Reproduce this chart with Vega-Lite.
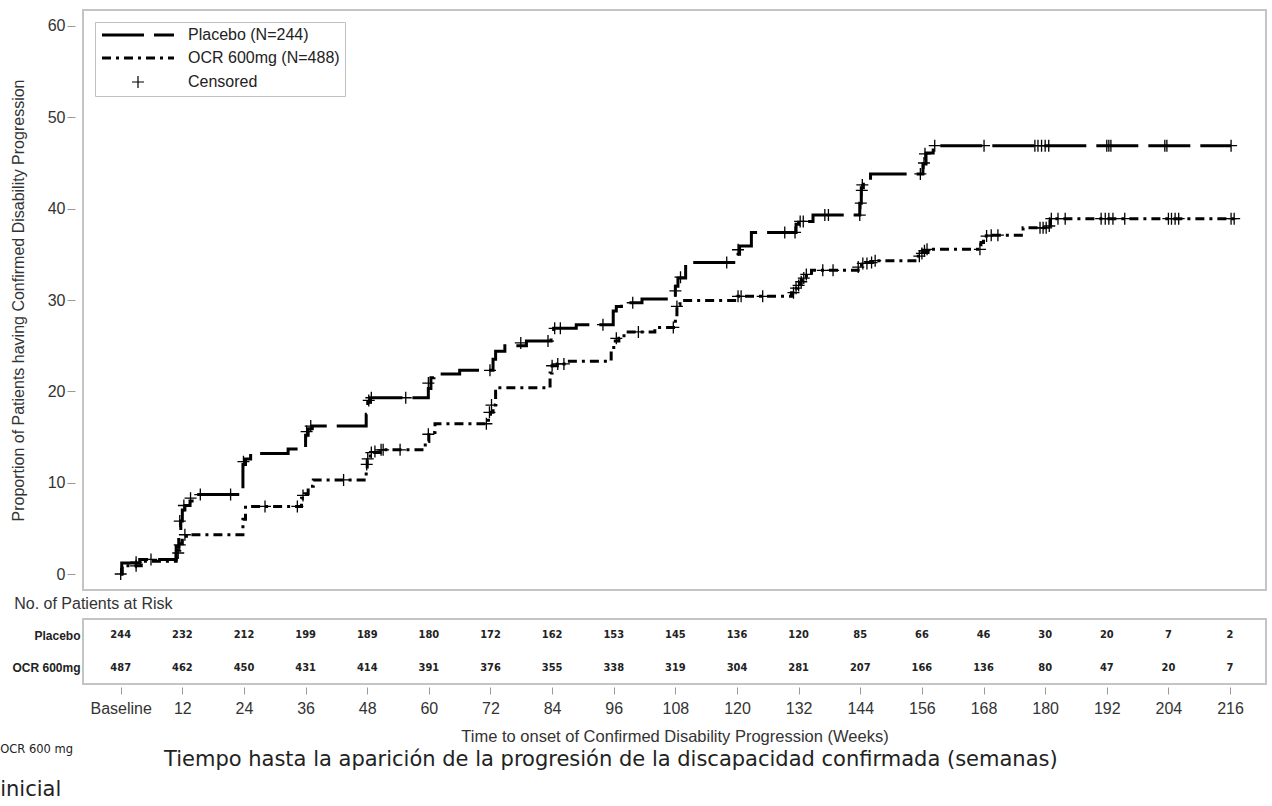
{
  "$schema": "https://vega.github.io/schema/vega-lite/v6.json",
  "padding": {"left": 0, "top": 9, "right": 2, "bottom": 0},
  "background": "white",
  "config": {
    "view": {"stroke": "#c4c4c4", "strokeWidth": 2},
    "font": "Liberation Sans",
    "axis": {"labelFont": "Liberation Sans", "titleFont": "Liberation Sans"}
  },
  "title": {
    "text": "OCR 600 mg",
    "subtitle": "inicial",
    "orient": "bottom",
    "anchor": "start",
    "frame": "bounds",
    "font": "DejaVu Sans",
    "fontSize": 11.5,
    "fontWeight": "normal",
    "color": "#222",
    "subtitleFont": "DejaVu Sans",
    "subtitleFontSize": 21,
    "subtitleColor": "#222",
    "subtitlePadding": 24,
    "offset": -27,
    "dx": -9
  },
  "datasets": {
    "curves": [
      {"arm": "Placebo (N=244)", "week": 0, "pct": 0},
      {"arm": "Placebo (N=244)", "week": 0.2, "pct": 1.2},
      {"arm": "Placebo (N=244)", "week": 3.7, "pct": 1.6},
      {"arm": "Placebo (N=244)", "week": 10.8, "pct": 3.0},
      {"arm": "Placebo (N=244)", "week": 11.3, "pct": 4.5},
      {"arm": "Placebo (N=244)", "week": 11.7, "pct": 5.8},
      {"arm": "Placebo (N=244)", "week": 12.0, "pct": 7.0},
      {"arm": "Placebo (N=244)", "week": 12.5, "pct": 7.5},
      {"arm": "Placebo (N=244)", "week": 13.5, "pct": 8.0},
      {"arm": "Placebo (N=244)", "week": 14.5, "pct": 8.7},
      {"arm": "Placebo (N=244)", "week": 23.8, "pct": 12.0},
      {"arm": "Placebo (N=244)", "week": 24.3, "pct": 12.6},
      {"arm": "Placebo (N=244)", "week": 25.3, "pct": 13.2},
      {"arm": "Placebo (N=244)", "week": 32.6, "pct": 13.7},
      {"arm": "Placebo (N=244)", "week": 36.0, "pct": 15.2},
      {"arm": "Placebo (N=244)", "week": 36.5, "pct": 15.9},
      {"arm": "Placebo (N=244)", "week": 37.3, "pct": 16.2},
      {"arm": "Placebo (N=244)", "week": 47.8, "pct": 17.5},
      {"arm": "Placebo (N=244)", "week": 48.1, "pct": 18.8},
      {"arm": "Placebo (N=244)", "week": 48.6, "pct": 19.3},
      {"arm": "Placebo (N=244)", "week": 59.9, "pct": 20.3},
      {"arm": "Placebo (N=244)", "week": 60.4, "pct": 21.5},
      {"arm": "Placebo (N=244)", "week": 61.0, "pct": 21.9},
      {"arm": "Placebo (N=244)", "week": 66.0, "pct": 22.3},
      {"arm": "Placebo (N=244)", "week": 72.5, "pct": 23.5},
      {"arm": "Placebo (N=244)", "week": 73.0, "pct": 24.4},
      {"arm": "Placebo (N=244)", "week": 74.8, "pct": 25.0},
      {"arm": "Placebo (N=244)", "week": 79.0, "pct": 25.5},
      {"arm": "Placebo (N=244)", "week": 83.8, "pct": 26.4},
      {"arm": "Placebo (N=244)", "week": 84.3, "pct": 26.9},
      {"arm": "Placebo (N=244)", "week": 88.7, "pct": 27.3},
      {"arm": "Placebo (N=244)", "week": 95.9, "pct": 28.8},
      {"arm": "Placebo (N=244)", "week": 96.5, "pct": 29.3},
      {"arm": "Placebo (N=244)", "week": 97.5, "pct": 29.7},
      {"arm": "Placebo (N=244)", "week": 101.5, "pct": 30.1},
      {"arm": "Placebo (N=244)", "week": 108.0, "pct": 31.5},
      {"arm": "Placebo (N=244)", "week": 108.5, "pct": 32.4},
      {"arm": "Placebo (N=244)", "week": 110.0, "pct": 34.1},
      {"arm": "Placebo (N=244)", "week": 120.2, "pct": 35.0},
      {"arm": "Placebo (N=244)", "week": 120.5, "pct": 35.9},
      {"arm": "Placebo (N=244)", "week": 122.8, "pct": 37.4},
      {"arm": "Placebo (N=244)", "week": 131.5, "pct": 38.3},
      {"arm": "Placebo (N=244)", "week": 132.0, "pct": 38.6},
      {"arm": "Placebo (N=244)", "week": 134.8, "pct": 39.3},
      {"arm": "Placebo (N=244)", "week": 143.9, "pct": 40.6},
      {"arm": "Placebo (N=244)", "week": 144.2, "pct": 42.3},
      {"arm": "Placebo (N=244)", "week": 144.6, "pct": 43.0},
      {"arm": "Placebo (N=244)", "week": 146.0, "pct": 43.8},
      {"arm": "Placebo (N=244)", "week": 156.2, "pct": 44.9},
      {"arm": "Placebo (N=244)", "week": 156.8, "pct": 46.1},
      {"arm": "Placebo (N=244)", "week": 158.2, "pct": 46.9},
      {"arm": "Placebo (N=244)", "week": 216.2, "pct": 46.9},
      {"arm": "OCR 600mg (N=488)", "week": 0, "pct": 0},
      {"arm": "OCR 600mg (N=488)", "week": 0.3, "pct": 0.9},
      {"arm": "OCR 600mg (N=488)", "week": 4.0, "pct": 1.4},
      {"arm": "OCR 600mg (N=488)", "week": 10.8, "pct": 2.0},
      {"arm": "OCR 600mg (N=488)", "week": 11.2, "pct": 2.6},
      {"arm": "OCR 600mg (N=488)", "week": 11.5, "pct": 3.3},
      {"arm": "OCR 600mg (N=488)", "week": 12.0, "pct": 3.9},
      {"arm": "OCR 600mg (N=488)", "week": 12.8, "pct": 4.3},
      {"arm": "OCR 600mg (N=488)", "week": 23.8, "pct": 6.0},
      {"arm": "OCR 600mg (N=488)", "week": 24.3, "pct": 7.3},
      {"arm": "OCR 600mg (N=488)", "week": 24.8, "pct": 7.4},
      {"arm": "OCR 600mg (N=488)", "week": 35.2, "pct": 8.3},
      {"arm": "OCR 600mg (N=488)", "week": 35.8, "pct": 8.8},
      {"arm": "OCR 600mg (N=488)", "week": 36.5, "pct": 9.6},
      {"arm": "OCR 600mg (N=488)", "week": 37.5, "pct": 10.3},
      {"arm": "OCR 600mg (N=488)", "week": 47.8, "pct": 11.5},
      {"arm": "OCR 600mg (N=488)", "week": 48.0, "pct": 12.4},
      {"arm": "OCR 600mg (N=488)", "week": 48.6, "pct": 13.3},
      {"arm": "OCR 600mg (N=488)", "week": 50.5, "pct": 13.6},
      {"arm": "OCR 600mg (N=488)", "week": 59.3, "pct": 14.5},
      {"arm": "OCR 600mg (N=488)", "week": 60.0, "pct": 15.5},
      {"arm": "OCR 600mg (N=488)", "week": 61.2, "pct": 16.45},
      {"arm": "OCR 600mg (N=488)", "week": 71.6, "pct": 17.0},
      {"arm": "OCR 600mg (N=488)", "week": 72.0, "pct": 17.7},
      {"arm": "OCR 600mg (N=488)", "week": 72.5, "pct": 18.5},
      {"arm": "OCR 600mg (N=488)", "week": 73.0, "pct": 20.0},
      {"arm": "OCR 600mg (N=488)", "week": 73.5, "pct": 20.4},
      {"arm": "OCR 600mg (N=488)", "week": 83.6, "pct": 22.0},
      {"arm": "OCR 600mg (N=488)", "week": 84.0, "pct": 22.8},
      {"arm": "OCR 600mg (N=488)", "week": 85.0, "pct": 23.0},
      {"arm": "OCR 600mg (N=488)", "week": 87.0, "pct": 23.3},
      {"arm": "OCR 600mg (N=488)", "week": 95.5, "pct": 24.5},
      {"arm": "OCR 600mg (N=488)", "week": 96.0, "pct": 25.5},
      {"arm": "OCR 600mg (N=488)", "week": 97.0, "pct": 25.8},
      {"arm": "OCR 600mg (N=488)", "week": 98.0, "pct": 26.5},
      {"arm": "OCR 600mg (N=488)", "week": 104.0, "pct": 27.0},
      {"arm": "OCR 600mg (N=488)", "week": 108.0, "pct": 28.0},
      {"arm": "OCR 600mg (N=488)", "week": 108.3, "pct": 29.5},
      {"arm": "OCR 600mg (N=488)", "week": 108.9, "pct": 29.95},
      {"arm": "OCR 600mg (N=488)", "week": 120.2, "pct": 30.4},
      {"arm": "OCR 600mg (N=488)", "week": 130.6, "pct": 30.8},
      {"arm": "OCR 600mg (N=488)", "week": 131.2, "pct": 31.3},
      {"arm": "OCR 600mg (N=488)", "week": 131.8, "pct": 31.8},
      {"arm": "OCR 600mg (N=488)", "week": 132.5, "pct": 32.2},
      {"arm": "OCR 600mg (N=488)", "week": 133.2, "pct": 32.6},
      {"arm": "OCR 600mg (N=488)", "week": 134.5, "pct": 33.25},
      {"arm": "OCR 600mg (N=488)", "week": 143.6, "pct": 33.8},
      {"arm": "OCR 600mg (N=488)", "week": 145.0, "pct": 34.1},
      {"arm": "OCR 600mg (N=488)", "week": 147.0, "pct": 34.3},
      {"arm": "OCR 600mg (N=488)", "week": 155.3, "pct": 34.8},
      {"arm": "OCR 600mg (N=488)", "week": 156.0, "pct": 35.2},
      {"arm": "OCR 600mg (N=488)", "week": 157.2, "pct": 35.55},
      {"arm": "OCR 600mg (N=488)", "week": 167.5, "pct": 36.3},
      {"arm": "OCR 600mg (N=488)", "week": 168.0, "pct": 37.0},
      {"arm": "OCR 600mg (N=488)", "week": 169.0, "pct": 37.1},
      {"arm": "OCR 600mg (N=488)", "week": 175.7, "pct": 37.9},
      {"arm": "OCR 600mg (N=488)", "week": 181.0, "pct": 38.9},
      {"arm": "OCR 600mg (N=488)", "week": 217.0, "pct": 38.9}
    ],
    "censored": [
      {"arm": "Placebo", "week": 0, "pct": 0},
      {"arm": "Placebo", "week": 3.0, "pct": 1.3},
      {"arm": "Placebo", "week": 5.9, "pct": 1.6},
      {"arm": "Placebo", "week": 11.5, "pct": 5.8},
      {"arm": "Placebo", "week": 12.3, "pct": 7.5},
      {"arm": "Placebo", "week": 13.6, "pct": 8.3},
      {"arm": "Placebo", "week": 15.5, "pct": 8.7},
      {"arm": "Placebo", "week": 21.4, "pct": 8.7},
      {"arm": "Placebo", "week": 23.9, "pct": 12.3},
      {"arm": "Placebo", "week": 36.2, "pct": 15.6},
      {"arm": "Placebo", "week": 37.0, "pct": 16.2},
      {"arm": "Placebo", "week": 48.3, "pct": 19.0},
      {"arm": "Placebo", "week": 48.8, "pct": 19.3},
      {"arm": "Placebo", "week": 55.5, "pct": 19.3},
      {"arm": "Placebo", "week": 59.9, "pct": 20.9},
      {"arm": "Placebo", "week": 71.9, "pct": 22.3},
      {"arm": "Placebo", "week": 77.9, "pct": 25.3},
      {"arm": "Placebo", "week": 83.2, "pct": 25.5},
      {"arm": "Placebo", "week": 84.5, "pct": 26.9},
      {"arm": "Placebo", "week": 85.6, "pct": 26.9},
      {"arm": "Placebo", "week": 93.9, "pct": 27.3},
      {"arm": "Placebo", "week": 99.7, "pct": 29.7},
      {"arm": "Placebo", "week": 108.0, "pct": 31.0},
      {"arm": "Placebo", "week": 109.0, "pct": 32.5},
      {"arm": "Placebo", "week": 118.0, "pct": 34.1},
      {"arm": "Placebo", "week": 120.2, "pct": 35.5},
      {"arm": "Placebo", "week": 129.3, "pct": 37.4},
      {"arm": "Placebo", "week": 131.3, "pct": 37.4},
      {"arm": "Placebo", "week": 132.3, "pct": 38.6},
      {"arm": "Placebo", "week": 132.9, "pct": 38.6},
      {"arm": "Placebo", "week": 137.1, "pct": 39.3},
      {"arm": "Placebo", "week": 137.8, "pct": 39.3},
      {"arm": "Placebo", "week": 143.9, "pct": 39.3},
      {"arm": "Placebo", "week": 144.1, "pct": 40.6},
      {"arm": "Placebo", "week": 144.3, "pct": 42.0},
      {"arm": "Placebo", "week": 144.4, "pct": 42.6},
      {"arm": "Placebo", "week": 155.7, "pct": 43.8},
      {"arm": "Placebo", "week": 156.4, "pct": 45.0},
      {"arm": "Placebo", "week": 156.6, "pct": 46.0},
      {"arm": "Placebo", "week": 158.5, "pct": 46.9},
      {"arm": "Placebo", "week": 168.1, "pct": 46.9},
      {"arm": "Placebo", "week": 178.0, "pct": 46.9},
      {"arm": "Placebo", "week": 178.6, "pct": 46.9},
      {"arm": "Placebo", "week": 179.3, "pct": 46.9},
      {"arm": "Placebo", "week": 180.0, "pct": 46.9},
      {"arm": "Placebo", "week": 180.7, "pct": 46.9},
      {"arm": "Placebo", "week": 192.0, "pct": 46.9},
      {"arm": "Placebo", "week": 192.4, "pct": 46.9},
      {"arm": "Placebo", "week": 192.8, "pct": 46.9},
      {"arm": "Placebo", "week": 203.3, "pct": 46.9},
      {"arm": "Placebo", "week": 203.7, "pct": 46.9},
      {"arm": "Placebo", "week": 216.2, "pct": 46.9},
      {"arm": "OCR 600mg", "week": 3.0, "pct": 0.9},
      {"arm": "OCR 600mg", "week": 11.2, "pct": 2.3},
      {"arm": "OCR 600mg", "week": 11.5, "pct": 3.2},
      {"arm": "OCR 600mg", "week": 12.5, "pct": 4.3},
      {"arm": "OCR 600mg", "week": 28.1, "pct": 7.4},
      {"arm": "OCR 600mg", "week": 34.4, "pct": 7.4},
      {"arm": "OCR 600mg", "week": 35.5, "pct": 8.6},
      {"arm": "OCR 600mg", "week": 43.4, "pct": 10.3},
      {"arm": "OCR 600mg", "week": 47.9, "pct": 12.0},
      {"arm": "OCR 600mg", "week": 48.1, "pct": 12.6},
      {"arm": "OCR 600mg", "week": 48.8, "pct": 13.3},
      {"arm": "OCR 600mg", "week": 49.5, "pct": 13.4},
      {"arm": "OCR 600mg", "week": 50.7, "pct": 13.6},
      {"arm": "OCR 600mg", "week": 51.1, "pct": 13.6},
      {"arm": "OCR 600mg", "week": 54.4, "pct": 13.6},
      {"arm": "OCR 600mg", "week": 59.9, "pct": 15.3},
      {"arm": "OCR 600mg", "week": 71.2, "pct": 16.45},
      {"arm": "OCR 600mg", "week": 71.8, "pct": 17.7},
      {"arm": "OCR 600mg", "week": 72.2, "pct": 18.5},
      {"arm": "OCR 600mg", "week": 84.0, "pct": 22.8},
      {"arm": "OCR 600mg", "week": 85.1, "pct": 23.0},
      {"arm": "OCR 600mg", "week": 86.3, "pct": 23.0},
      {"arm": "OCR 600mg", "week": 96.5, "pct": 25.8},
      {"arm": "OCR 600mg", "week": 100.8, "pct": 26.5},
      {"arm": "OCR 600mg", "week": 107.6, "pct": 27.0},
      {"arm": "OCR 600mg", "week": 108.3, "pct": 29.3},
      {"arm": "OCR 600mg", "week": 120.2, "pct": 30.4},
      {"arm": "OCR 600mg", "week": 120.8, "pct": 30.4},
      {"arm": "OCR 600mg", "week": 125.0, "pct": 30.4},
      {"arm": "OCR 600mg", "week": 131.0, "pct": 30.8},
      {"arm": "OCR 600mg", "week": 131.5, "pct": 31.3},
      {"arm": "OCR 600mg", "week": 132.0, "pct": 31.6},
      {"arm": "OCR 600mg", "week": 132.5, "pct": 32.0},
      {"arm": "OCR 600mg", "week": 133.0, "pct": 32.4},
      {"arm": "OCR 600mg", "week": 133.5, "pct": 32.8},
      {"arm": "OCR 600mg", "week": 136.7, "pct": 33.25},
      {"arm": "OCR 600mg", "week": 138.7, "pct": 33.25},
      {"arm": "OCR 600mg", "week": 143.6, "pct": 33.6},
      {"arm": "OCR 600mg", "week": 144.5, "pct": 34.0},
      {"arm": "OCR 600mg", "week": 145.3, "pct": 34.0},
      {"arm": "OCR 600mg", "week": 146.2, "pct": 34.1},
      {"arm": "OCR 600mg", "week": 146.9, "pct": 34.3},
      {"arm": "OCR 600mg", "week": 155.5, "pct": 34.8},
      {"arm": "OCR 600mg", "week": 156.0, "pct": 35.1},
      {"arm": "OCR 600mg", "week": 156.5, "pct": 35.4},
      {"arm": "OCR 600mg", "week": 157.0, "pct": 35.55},
      {"arm": "OCR 600mg", "week": 167.3, "pct": 35.55},
      {"arm": "OCR 600mg", "week": 168.6, "pct": 37.0},
      {"arm": "OCR 600mg", "week": 169.5, "pct": 37.1},
      {"arm": "OCR 600mg", "week": 170.8, "pct": 37.1},
      {"arm": "OCR 600mg", "week": 179.0, "pct": 37.9},
      {"arm": "OCR 600mg", "week": 179.6, "pct": 37.9},
      {"arm": "OCR 600mg", "week": 180.2, "pct": 37.9},
      {"arm": "OCR 600mg", "week": 180.8, "pct": 38.1},
      {"arm": "OCR 600mg", "week": 181.2, "pct": 38.9},
      {"arm": "OCR 600mg", "week": 182.5, "pct": 38.9},
      {"arm": "OCR 600mg", "week": 183.9, "pct": 38.9},
      {"arm": "OCR 600mg", "week": 190.9, "pct": 38.9},
      {"arm": "OCR 600mg", "week": 191.7, "pct": 38.9},
      {"arm": "OCR 600mg", "week": 192.4, "pct": 38.9},
      {"arm": "OCR 600mg", "week": 193.2, "pct": 38.9},
      {"arm": "OCR 600mg", "week": 195.5, "pct": 38.9},
      {"arm": "OCR 600mg", "week": 204.0, "pct": 38.9},
      {"arm": "OCR 600mg", "week": 204.6, "pct": 38.9},
      {"arm": "OCR 600mg", "week": 205.3, "pct": 38.9},
      {"arm": "OCR 600mg", "week": 206.0, "pct": 38.9},
      {"arm": "OCR 600mg", "week": 216.2, "pct": 38.9},
      {"arm": "OCR 600mg", "week": 216.8, "pct": 38.9}
    ],
    "risk": [
      {"arm": "Placebo", "week": 0, "n": 244},
      {"arm": "Placebo", "week": 12, "n": 232},
      {"arm": "Placebo", "week": 24, "n": 212},
      {"arm": "Placebo", "week": 36, "n": 199},
      {"arm": "Placebo", "week": 48, "n": 189},
      {"arm": "Placebo", "week": 60, "n": 180},
      {"arm": "Placebo", "week": 72, "n": 172},
      {"arm": "Placebo", "week": 84, "n": 162},
      {"arm": "Placebo", "week": 96, "n": 153},
      {"arm": "Placebo", "week": 108, "n": 145},
      {"arm": "Placebo", "week": 120, "n": 136},
      {"arm": "Placebo", "week": 132, "n": 120},
      {"arm": "Placebo", "week": 144, "n": 85},
      {"arm": "Placebo", "week": 156, "n": 66},
      {"arm": "Placebo", "week": 168, "n": 46},
      {"arm": "Placebo", "week": 180, "n": 30},
      {"arm": "Placebo", "week": 192, "n": 20},
      {"arm": "Placebo", "week": 204, "n": 7},
      {"arm": "Placebo", "week": 216, "n": 2},
      {"arm": "OCR 600mg", "week": 0, "n": 487},
      {"arm": "OCR 600mg", "week": 12, "n": 462},
      {"arm": "OCR 600mg", "week": 24, "n": 450},
      {"arm": "OCR 600mg", "week": 36, "n": 431},
      {"arm": "OCR 600mg", "week": 48, "n": 414},
      {"arm": "OCR 600mg", "week": 60, "n": 391},
      {"arm": "OCR 600mg", "week": 72, "n": 376},
      {"arm": "OCR 600mg", "week": 84, "n": 355},
      {"arm": "OCR 600mg", "week": 96, "n": 338},
      {"arm": "OCR 600mg", "week": 108, "n": 319},
      {"arm": "OCR 600mg", "week": 120, "n": 304},
      {"arm": "OCR 600mg", "week": 132, "n": 281},
      {"arm": "OCR 600mg", "week": 144, "n": 207},
      {"arm": "OCR 600mg", "week": 156, "n": 166},
      {"arm": "OCR 600mg", "week": 168, "n": 136},
      {"arm": "OCR 600mg", "week": 180, "n": 80},
      {"arm": "OCR 600mg", "week": 192, "n": 47},
      {"arm": "OCR 600mg", "week": 204, "n": 20},
      {"arm": "OCR 600mg", "week": 216, "n": 7}
    ]
  },
  "spacing": 5,
  "vconcat": [
    {
      "width": 1183,
      "height": 580,
      "title": {
        "text": "No. of Patients at Risk",
        "orient": "bottom",
        "anchor": "start",
        "frame": "bounds",
        "font": "Liberation Sans",
        "fontSize": 16,
        "fontWeight": "normal",
        "color": "#333",
        "offset": 6,
        "dx": 4
      },
      "layer": [
        {
          "data": {"name": "curves"},
          "mark": {"type": "line", "interpolate": "step-after", "color": "black", "strokeWidth": 3},
          "encoding": {
            "x": {"field": "week", "type": "quantitative", "scale": {"domain": [-7.34, 223.0], "nice": false, "zero": false}, "axis": null},
            "y": {
              "field": "pct", "type": "quantitative",
              "scale": {"domain": [-1.75, 61.75], "nice": false, "zero": false},
              "axis": {
                "values": [0, 10, 20, 30, 40, 50, 60],
                "grid": false, "domain": false,
                "tickColor": "#999", "tickSize": 8, "offset": 8,
                "labelFontSize": 16, "labelColor": "#333", "labelPadding": 2,
                "title": "Proportion of Patients having Confirmed Disability Progression",
                "titleFontSize": 16, "titleFontWeight": "normal", "titleColor": "#333", "titlePadding": 21
              }
            },
            "strokeDash": {
              "field": "arm", "type": "nominal",
              "scale": {"domain": ["Placebo (N=244)", "OCR 600mg (N=488)", "Censored"], "range": [[42, 10], [9, 5, 3, 5], [1, 0]]},
              "legend": {
                "orient": "top-left", "offset": 12, "title": null,
                "strokeColor": "#c0c0c0", "fillColor": "white", "padding": 5,
                "labelFont": "Liberation Sans", "labelFontSize": 16, "labelColor": "#222", "labelLimit": 300,
                "symbolType": "stroke", "symbolSize": 144, "labelOffset": 72, "rowPadding": 7,
                "symbolStrokeWidth": 3, "symbolStrokeColor": "black",
                "encode": {
                  "symbols": {
                    "update": {
                      "shape": {"signal": "datum.value === 'Censored' ? 'M4,0H6M5,-1V1' : 'M-1,0H11'"},
                      "strokeWidth": {"signal": "datum.value === 'Censored' ? 1.2 : 3"},
                      "stroke": {"value": "black"}
                    }
                  }
                }
              }
            }
          }
        },
        {
          "data": {"name": "censored"},
          "mark": {"type": "point", "shape": "M-1,0H1M0,-1V1", "size": 144, "filled": false, "stroke": "black", "strokeWidth": 1.3, "opacity": 1},
          "encoding": {
            "x": {"field": "week", "type": "quantitative"},
            "y": {"field": "pct", "type": "quantitative"}
          }
        }
      ]
    },
    {
      "width": 1183,
      "height": 65,
      "title": {
        "text": "Tiempo hasta la aparición de la progresión de la discapacidad confirmada (semanas)",
        "orient": "bottom",
        "anchor": "start",
        "frame": "group",
        "font": "DejaVu Sans",
        "fontSize": 21,
        "fontWeight": "normal",
        "color": "#222",
        "dx": 81,
        "offset": 4
      },
      "data": {"name": "risk"},
      "mark": {"type": "text", "font": "'DejaVu Sans Condensed', 'Liberation Sans', sans-serif", "fontSize": 11, "fontWeight": "bold", "color": "#222"},
      "encoding": {
        "x": {
          "field": "week", "type": "quantitative",
          "scale": {"domain": [-7.34, 223.0], "nice": false, "zero": false},
          "axis": {
            "values": [0, 12, 24, 36, 48, 60, 72, 84, 96, 108, 120, 132, 144, 156, 168, 180, 192, 204, 216],
            "labelExpr": "datum.value === 0 ? 'Baseline' : datum.label",
            "grid": false, "domain": false,
            "tickColor": "#999", "tickSize": 7, "offset": 3,
            "labelFontSize": 16, "labelColor": "#333", "labelPadding": 6,
            "title": "Time to onset of Confirmed Disability Progression (Weeks)",
            "titleFontSize": 16.5, "titleFontWeight": "normal", "titleColor": "#333", "titlePadding": 12
          }
        },
        "y": {
          "field": "arm", "type": "nominal",
          "scale": {"domain": ["Placebo", "OCR 600mg"], "padding": 0.5},
          "axis": {"title": null, "ticks": false, "domain": false, "labelFont": "Liberation Sans", "labelFontSize": 12, "labelFontWeight": "bold", "labelColor": "#222", "labelPadding": 3}
        },
        "text": {"field": "n", "type": "quantitative"}
      }
    }
  ]
}
